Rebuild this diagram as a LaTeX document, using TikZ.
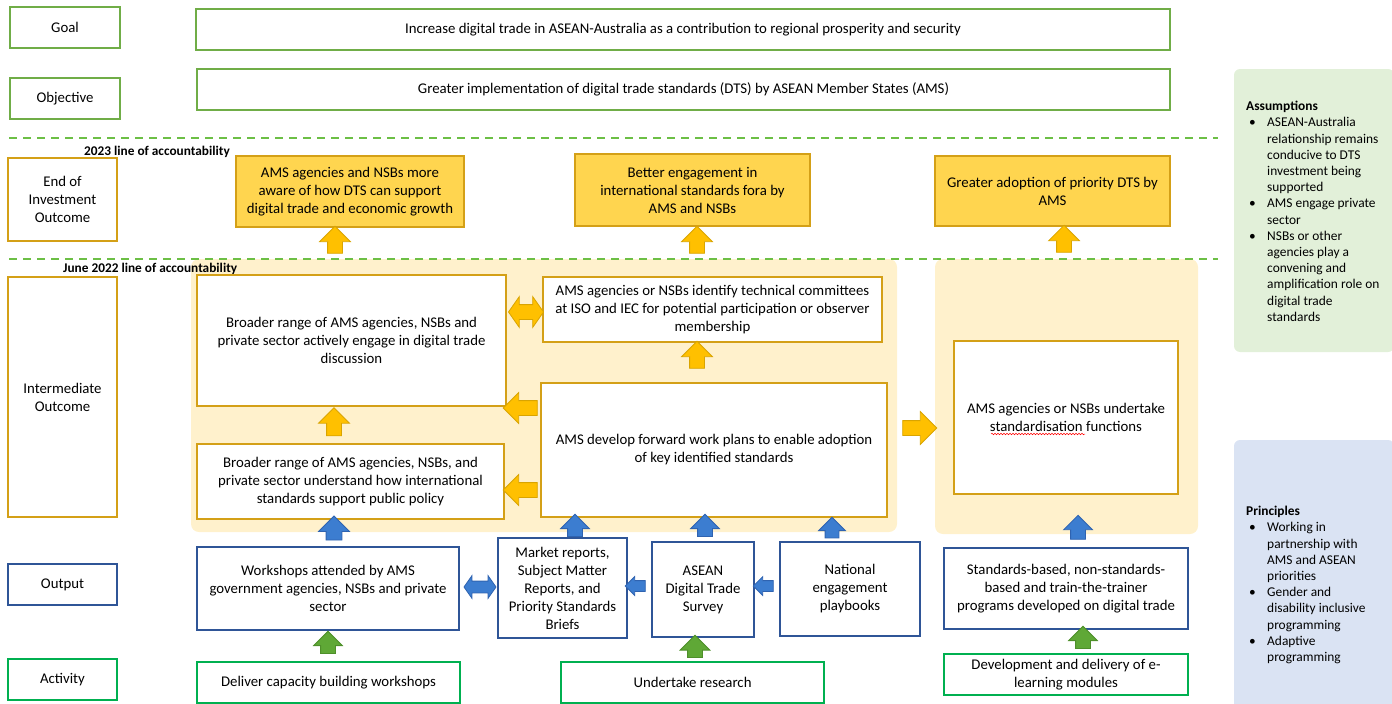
\documentclass[tikz,border=0pt]{standalone}
\usepackage{fontspec}
\setmainfont{Carlito}
\usetikzlibrary{shapes.arrows,decorations.pathmorphing}
\definecolor{gGreen}{HTML}{70AD47}
\definecolor{aGreen}{HTML}{00B050}
\definecolor{goldB}{HTML}{D4A017}
\definecolor{eoFill}{HTML}{FFD54F}
\definecolor{arrO}{HTML}{FFC000}
\definecolor{arrOd}{HTML}{D9A400}
\definecolor{regFill}{HTML}{FFF1CC}
\definecolor{bBlue}{HTML}{2F5597}
\definecolor{arrB}{HTML}{3C7DD0}
\definecolor{arrBd}{HTML}{2F63B0}
\definecolor{arrG}{HTML}{5FA836}
\definecolor{arrGd}{HTML}{4E8F2A}
\definecolor{asmFill}{HTML}{E2F0D9}
\definecolor{prnFill}{HTML}{DAE3F3}
\definecolor{dashG}{HTML}{6CBF45}

\newcommand\bx[7]{\node[#2, minimum width={#5-#3}, minimum height={#6-#4}] (#1) at ({(#3+#5)/2},{(#4+#6)/2}) {#7};}
% name, style, head width, length, half shaft, head extend, position
\newcommand\arw[7]{\node[#2, minimum width=#3, minimum height=#4, inner sep=#5, arrext=#6] (#1) at (#7) {};}
\newcommand\sbul{\makebox[21pt][l]{\hspace{3pt}•}}
\newcommand\sind{\hspace*{21pt}}

\tikzset{
  boxbase/.style={draw, line width=1.8pt, align=center, inner sep=1pt,
    font=\fontsize{14.8}{18}\selectfont, fill=white},
  gbox/.style={boxbase, draw=gGreen},
  abox/.style={boxbase, draw=aGreen},
  obox/.style={boxbase, draw=goldB},
  ebox/.style={boxbase, draw=goldB, fill=eoFill},
  bbox/.style={boxbase, draw=bBlue},
  regionbox/.style={fill=regFill, rounded corners=8pt, inner sep=0pt},
  arrbase/.style={line width=0.8pt, single arrow head indent=0pt, double arrow head indent=0pt},
  arrext/.style={single arrow head extend=#1, double arrow head extend=#1},
  upA/.style={single arrow, shape border rotate=90, arrbase},
  leftA/.style={single arrow, shape border rotate=180, arrbase},
  rightA/.style={single arrow, shape border rotate=0, arrbase},
  dblA/.style={double arrow, double arrow tip angle=110, arrbase},
  oA/.style={fill=arrO, draw=arrOd},
  bA/.style={fill=arrB, draw=arrBd},
  gA/.style={fill=arrG, draw=arrGd},
  dashline/.style={draw=dashG, line width=2pt, dash pattern=on 8pt off 6pt},
  acclabel/.style={font=\bfseries\fontsize{13.3}{16}\selectfont, inner sep=0pt, anchor=base west},
  sidetext/.style={font=\fontsize{13.4}{16.2}\selectfont, align=left, inner sep=0pt, anchor=north west},
}

\begin{document}
\begin{tikzpicture}[x=1pt,y=-1pt]
\useasboundingbox (0,0) rectangle (1392,704);

% background regions
\bx{regA}{regionbox}{191}{259}{897}{532}{}
\bx{regB}{regionbox}{935}{259}{1198}{534}{}
\node[fill=asmFill, rounded corners=6pt, minimum width=160, minimum height=283, inner sep=0pt] (asm) at (1314,210.5) {};
\node[fill=prnFill, rounded corners=6pt, minimum width=160, minimum height=275, inner sep=0pt] (prn) at (1314,577.5) {};

% lines of accountability
\coordinate (d1l) at (9,138);
\coordinate (d1r) at (1218,138);
\coordinate (d2l) at (9,258.5);
\coordinate (d2r) at (1218,258.5);
\draw[dashline] (d1l) -- (d1r);
\draw[dashline] (d2l) -- (d2r);
\node[acclabel] (acc1) at (84,155) {2023 line of accountability};
\node[acclabel] (acc2) at (63,272) {June 2022 line of accountability};

% left labels
\bx{goalL}{gbox}{10}{7}{120}{48}{Goal}
\bx{objL}{gbox}{10}{78}{120}{119}{Objective}
\bx{eoioL}{obox}{8}{158}{117}{241}{End of\\Investment\\Outcome}
\bx{intL}{obox}{8}{277}{117}{517}{Intermediate\\Outcome}
\bx{outL}{bbox}{8}{564}{117}{605}{Output}
\bx{actL}{abox}{8}{659}{117}{700}{Activity}

% goal and objective
\bx{goal}{gbox}{196}{9}{1170}{50}{Increase digital trade in ASEAN-Australia as a contribution to regional prosperity and security}
\bx{obj}{gbox}{197}{69}{1170}{110}{Greater implementation of digital trade standards (DTS) by ASEAN Member States (AMS)}

% end of investment outcomes
\bx{eo1}{ebox}{236}{156}{464}{227}{AMS agencies and NSBs more\\aware of how DTS can support\\digital trade and economic growth}
\bx{eo2}{ebox}{575}{154}{810}{226}{Better engagement in\\international standards fora by\\AMS and NSBs}
\bx{eo3}{ebox}{935}{156}{1170}{226}{Greater adoption of priority DTS by\\AMS}

% intermediate outcomes
\bx{engage}{obox}{197}{275}{506}{406}{Broader range of AMS agencies, NSBs and\\private sector actively engage in digital trade\\discussion}
\bx{identify}{obox}{543}{277}{882}{342}{AMS agencies or NSBs identify technical committees\\at ISO and IEC for potential participation or observer\\membership}
\bx{develop}{obox}{541}{383}{887}{517}{AMS develop forward work plans to enable adoption\\of key identified standards}
\bx{understand}{obox}{197}{444}{504}{519}{Broader range of AMS agencies, NSBs, and\\private sector understand how international\\standards support public policy}
\bx{undertake}{obox}{954}{341}{1178}{494}{AMS agencies or NSBs undertake\\standardisation functions}
\coordinate (sq1) at (991,434);
\coordinate (sq2) at (1085,434);
\draw[red, line width=0.5pt, decorate, decoration={snake, amplitude=0.8pt, segment length=3pt}] (sq1) -- (sq2);

% outputs
\bx{workshops}{bbox}{197}{547}{459}{630}{Workshops attended by AMS\\government agencies, NSBs and private\\sector}
\bx{market}{bbox}{498}{538}{627}{638}{Market reports,\\Subject Matter\\Reports, and\\Priority Standards\\Briefs}
\bx{survey}{bbox}{652}{542}{754}{637}{ASEAN\\Digital Trade\\Survey}
\bx{playbooks}{bbox}{780}{542}{920}{636}{National\\engagement\\playbooks}
\bx{standards}{bbox}{944}{548}{1188}{629}{Standards-based, non-standards-\\based and train-the-trainer\\programs developed on digital trade}

% activities
\bx{deliver}{abox}{197}{662}{460}{703}{Deliver capacity building workshops}
\bx{research}{abox}{561}{662}{824}{703}{Undertake research}
\bx{elearn}{abox}{944}{654}{1188}{695}{Development and delivery of e-\\learning modules}

% orange arrows
\arw{aeo1}{upA,oA}{30}{27}{7}{8}{335,243.5}
\arw{aeo2}{upA,oA}{30}{27}{7}{8}{697,243.5}
\arw{aeo3}{upA,oA}{30}{27}{7}{8}{1064,242.5}
\arw{aEI}{dblA,oA}{30}{35}{7}{8}{526,312}
\arw{aDE}{leftA,oA}{30}{34}{7}{8}{524,408}
\arw{aDU}{leftA,oA}{30}{34}{7}{8}{524,490}
\arw{aUE}{upA,oA}{30}{28}{7}{8}{334,425.5}
\arw{aDI}{upA,oA}{30}{27}{7}{8}{697,358.5}
\arw{aAB}{rightA,oA}{32}{34}{7}{9}{916,428}

% blue arrows
\arw{bW}{upA,bA}{30}{24}{7.5}{7.5}{334,532}
\arw{bM}{upA,bA}{28}{18}{7}{7}{575,529}
\arw{bS}{upA,bA}{28}{20}{7}{7}{705,529}
\arw{bP}{upA,bA}{26}{19}{6.5}{6.5}{832,531}
\arw{bStd}{upA,bA}{28}{24}{7}{7}{1078,531}
\arw{bWM}{dblA,bA}{22}{32}{5.5}{5.5}{480,587}
\arw{bSM}{leftA,bA}{18}{20}{5}{4}{638,586}
\arw{bPS}{leftA,bA}{18}{20}{5}{4}{766,586}

% green arrows
\arw{gD}{upA,gA}{28}{22}{7}{7}{328,646}
\arw{gR}{upA,gA}{29}{16}{7}{7.5}{695,650}
\arw{gE}{upA,gA}{28}{22}{7}{7}{1083,641}

% side panels
\node[sidetext] (asmtxt) at (1246,101) {\textbf{Assumptions}\\
\sbul ASEAN-Australia\\
\sind relationship remains\\
\sind conducive to DTS\\
\sind investment being\\
\sind supported\\
\sbul AMS engage private\\
\sind sector\\
\sbul NSBs or other\\
\sind agencies play a\\
\sind convening and\\
\sind amplification role on\\
\sind digital trade\\
\sind standards};
\node[sidetext] (prntxt) at (1246,506) {\textbf{Principles}\\
\sbul Working in\\
\sind partnership with\\
\sind AMS and ASEAN\\
\sind priorities\\
\sbul Gender and\\
\sind disability inclusive\\
\sind programming\\
\sbul Adaptive\\
\sind programming};
\end{tikzpicture}
\end{document}
